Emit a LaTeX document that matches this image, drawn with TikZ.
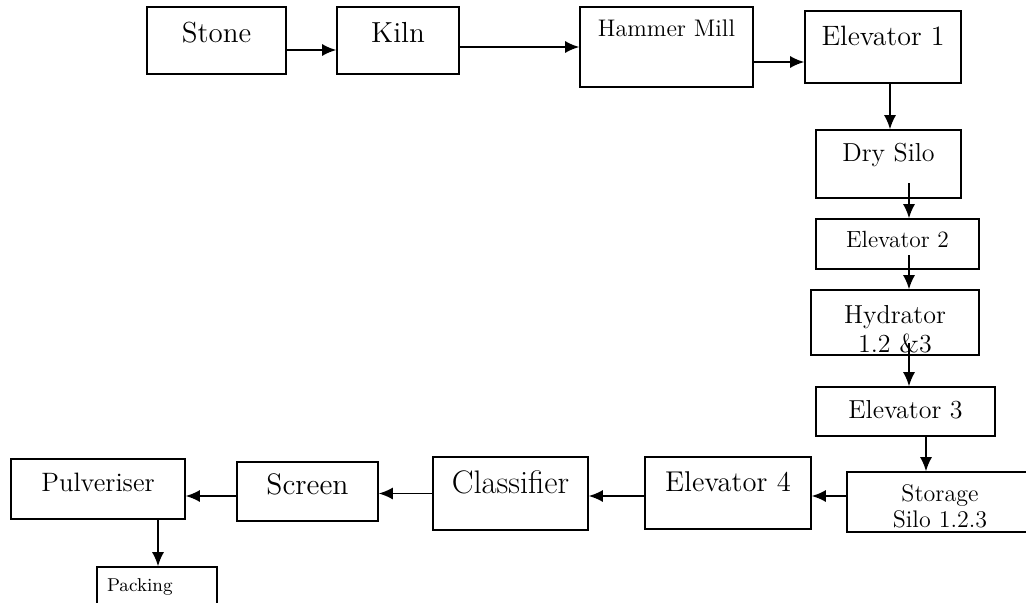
\documentclass[tikz,border=0pt]{standalone}
\usepackage{amsmath}
\usepackage{fontspec}
\usetikzlibrary{arrows.meta}

\begin{document}
\begin{tikzpicture}[x=5pt,y=5pt,
  box/.style={draw,line width=0.8pt,inner sep=0pt},
  arr/.style={-{Latex[length=7pt,width=6pt]},line width=0.8pt}]
\useasboundingbox (0,0) rectangle (102.6,60.2);
% top row
\draw (21.65,56.15) node[box,minimum width=69.5pt,minimum height=33.5pt,text height=1.5pt,text depth=0pt,font=\fontsize{14.5}{17}\selectfont](stone) {Stone};
\draw (39.8,56.15) node[box,minimum width=61pt,minimum height=33.5pt,text height=1.5pt,text depth=0pt,font=\fontsize{14.5}{17}\selectfont](kiln) {Kiln};
\draw (66.65,55.5) node[box,minimum width=86.5pt,minimum height=40pt,text height=0pt,text depth=11pt,font=\fontsize{12}{14}\selectfont](hammer) {Hammer Mill};
\draw (88.3,55.5) node[box,minimum width=78pt,minimum height=36pt,text height=0pt,text depth=2pt,font=\fontsize{14}{17}\selectfont](elevA) {Elevator 1};
% right column
\draw (88.85,43.8) node[box,minimum width=72.5pt,minimum height=34pt,text height=0pt,text depth=3pt,font=\fontsize{13}{15.5}\selectfont](drysilo) {Dry Silo};
\draw (89.75,35.8) node[box,minimum width=81.5pt,minimum height=25pt,text height=3pt,text depth=0pt,font=\fontsize{11.7}{14}\selectfont](elevB) {Elevator 2};
\draw (89.5,27.95) node[box,minimum width=84pt,minimum height=32.5pt,text width=84pt,align=center,text height=0.5pt,text depth=0pt,font=\fontsize{13}{14.5}\selectfont](hydrator) {Hydrator\\1.2 \&3};
\draw (90.55,19.05) node[box,minimum width=89.5pt,minimum height=24.5pt,text height=6.5pt,text depth=0pt,font=\fontsize{13}{15.5}\selectfont](elevC) {Elevator 3};
% bottom row
\draw (94.0,10.0) node[box,minimum width=93pt,minimum height=30pt,text width=93pt,align=center,text height=0pt,text depth=1pt,font=\fontsize{12}{13}\selectfont](storage) {Storage\\Silo 1.2.3};
\draw (72.8,10.9) node[box,minimum width=83pt,minimum height=36pt,text height=0pt,text depth=2pt,font=\fontsize{14.3}{17}\selectfont](elevD) {Elevator 4};
\draw (51.05,10.85) node[box,minimum width=77.5pt,minimum height=36.5pt,text height=0pt,text depth=0.5pt,font=\fontsize{16.3}{19.5}\selectfont](classifier) {Classifier};
\draw (30.75,11.05) node[box,minimum width=70.5pt,minimum height=29.5pt,text height=2.5pt,text depth=0pt,font=\fontsize{14.8}{17.5}\selectfont](screen) {Screen};
\draw (9.8,11.3) node[box,minimum width=87pt,minimum height=30pt,text height=2pt,text depth=0pt,font=\fontsize{13.3}{16}\selectfont](pulveriser) {Pulveriser};
\draw (15.7,-0.15) node[box,minimum width=60pt,minimum height=36.5pt,text width=50pt,inner xsep=5pt,align=left,text height=0pt,text depth=12.5pt,font=\fontsize{9.3}{11}\selectfont](packing) {Packing};
% flow
\draw[arr] ([yshift=-4.75pt]stone.east) -- ([yshift=-4.75pt]kiln.west);
\draw[arr] ([yshift=-3.25pt]kiln.east) -- ([yshift=-3.25pt]kiln.east -| hammer.west);
\draw[arr] ([yshift=-7.5pt]hammer.east) -- ([yshift=-7.5pt]elevA.west);
\draw[arr] ([xshift=3.5pt]elevA.south) -- ([xshift=3.5pt]elevA.south |- drysilo.north);
\draw[arr] ([shift={(10.25pt,-9.5pt)}]drysilo.center) -- ([xshift=10.25pt]drysilo.center |- elevB.north);
\draw[arr] ([shift={(5.75pt,-5.5pt)}]elevB.center) -- ([xshift=5.75pt]elevB.center |- hydrator.north);
\draw[arr] ([shift={(7pt,-10.25pt)}]hydrator.center) -- ([xshift=7pt]hydrator.center |- elevC.north);
\draw[arr] ([xshift=10.25pt]elevC.south) -- ([xshift=10.25pt]elevC.south |- storage.north);
\draw[arr] ([yshift=3pt]storage.west) -- ([yshift=3pt]storage.west -| elevD.east);
\draw[arr] ([yshift=-1.5pt]elevD.west) -- ([yshift=-1.5pt]elevD.west -| classifier.east);
\draw[arr] (classifier.west) -- (classifier.west -| screen.east);
\draw[arr] ([yshift=-2.25pt]screen.west) -- ([yshift=-2.25pt]screen.west -| pulveriser.east);
\draw[arr] ([xshift=30pt]pulveriser.south) -- ([xshift=30pt]pulveriser.south |- packing.north);
\end{tikzpicture}
\end{document}
